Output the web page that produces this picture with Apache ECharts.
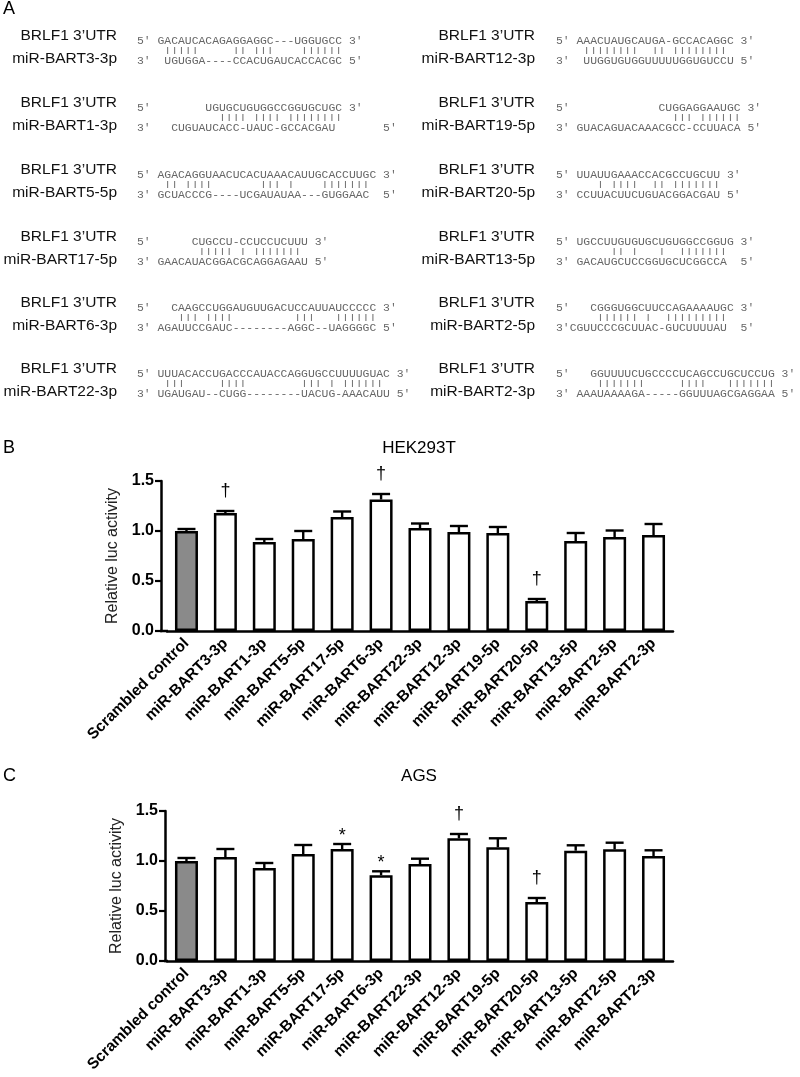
<!DOCTYPE html>
<html>
<head>
<meta charset="utf-8">
<script src="https://cdn.jsdelivr.net/npm/echarts@6/dist/echarts.min.js"></script>
<style>html,body{margin:0;padding:0;background:#fff}#c{width:800px;height:1077px}</style>
</head>
<body>
<div id="c"></div>
<script>
// ---------- data ----------
const categories = ['Scrambled control','miR-BART3-3p','miR-BART1-3p','miR-BART5-5p','miR-BART17-5p','miR-BART6-3p','miR-BART22-3p','miR-BART12-3p','miR-BART19-5p','miR-BART20-5p','miR-BART13-5p','miR-BART2-5p','miR-BART2-3p'];
const hekMean = [1.00,1.18,0.89,0.92,1.14,1.315,1.03,0.99,0.98,0.30,0.90,0.94,0.96];
const hekErr  = [0.02,0.02,0.03,0.08,0.055,0.055,0.045,0.06,0.06,0.02,0.08,0.065,0.11];
const hekSig  = ['','†','','','','†','','','','†','','',''];
const agsMean = [1.00,1.04,0.93,1.07,1.12,0.857,0.97,1.227,1.137,0.59,1.103,1.117,1.05];
const agsErr  = [0.03,0.08,0.05,0.09,0.05,0.04,0.053,0.043,0.09,0.04,0.054,0.066,0.057];
const agsSig  = ['','','','','*','*','','†','','†','','',''];
const yTicks = [0, 0.5, 1.0, 1.5];

const utrLabel = 'BRLF1 3’UTR';
const leftMirs = ['miR-BART3-3p','miR-BART1-3p','miR-BART5-5p','miR-BART17-5p','miR-BART6-3p','miR-BART22-3p'];
const leftTop = [
  '5′ GACAUCACAGAGGAGGC---UGGUGCC 3′',
  '5′        UGUGCUGUGGCCGGUGCUGC 3′',
  '5′ AGACAGGUAACUCACUAAACAUUGCACCUUGC 3′',
  '5′      CUGCCU-CCUCCUCUUU 3′',
  '5′   CAAGCCUGGAUGUUGACUCCAUUAUCCCCC 3′',
  '5′ UUUACACCUGACCCAUACCAGGUGCCUUUUGUAC 3′'];
const leftPipes = [
  '    |||||     || |||    ||||||',
  '            |||| |||| ||||||||',
  '    || ||||       ||| |    |||||||',
  '         ||||| | |||||||',
  '      ||| ||||         |||   ||||||',
  '    |||     ||||        ||| | ||||||'];
const leftBot = [
  '3′  UGUGGA----CCACUGAUCACCACGC 5′',
  '3′   CUGUAUCACC-UAUC-GCCACGAU       5′',
  '3′ GCUACCCG----UCGAUAUAA---GUGGAAC  5′',
  '3′ GAACAUACGGACGCAGGAGAAU 5′',
  '3′ AGAUUCCGAUC--------AGGC--UAGGGGC 5′',
  '3′ UGAUGAU--CUGG--------UACUG-AAACAUU 5′'];
const rightMirs = ['miR-BART12-3p','miR-BART19-5p','miR-BART20-5p','miR-BART13-5p','miR-BART2-5p','miR-BART2-3p'];
const rightTop = [
  '5′ AAACUAUGCAUGA-GCCACAGGC 3′',
  '5′             CUGGAGGAAUGC 3′',
  '5′ UUAUUGAAACCACGCCUGCUU 3′',
  '5′ UGCCUUGUGUGCUGUGGCCGGUG 3′',
  '5′   CGGGUGGCUUCCAGAAAAUGC 3′',
  '5′   GGUUUUCUGCCCCUCAGCCUGCUCCUG 3′'];
const rightPipes = [
  '    ||||||||  || ||||||||',
  '                 ||| ||||||',
  '      | ||||  || |||||||',
  '        || |   |  |||||||',
  '      |||||| |  |||||||||',
  '      |||||||     ||||   |||||||'];
const rightBot = [
  '3′  UUGGUGUGGUUUUUGGUGUCCU 5′',
  '3′ GUACAGUACAAACGCC-CCUUACA 5′',
  '3′ CCUUACUUCUGUACGGACGAU 5′',
  '3′ GACAUGCUCCGGUGCUCGGCCA  5′',
  '3′CGUUCCCGCUUAC-GUCUUUUAU  5′',
  '3′ AAAUAAAAGA-----GGUUUAGCGAGGAA 5′'];

// ---------- layout ----------
const SANS = '"Liberation Sans", Arial, sans-serif';
const MONO = '"Liberation Mono", "Courier New", monospace';
const rowY = [36, 103, 170, 237, 303, 369];
const gB = {left:167, right:127, top:481, height:150, yOff:6, nameGap:34};
const gC = {left:167, right:127, top:811, height:150, yOff:2, nameGap:38};

const graphics = [];
function txt(x, y, text, opt) {
  graphics.push(Object.assign({type:'text', x:x, y:y, silent:true,
    style: Object.assign({text:text, fill:'#111', fontFamily:SANS, fontSize:15.5,
      align:'left', verticalAlign:'middle'}, opt.style || {})}, opt.el || {}));
}
function block(labX, seqX, y0, mir, top, pipes, bot) {
  txt(labX, y0, utrLabel, {style:{align:'right'}});
  txt(labX, y0 + 23, mir, {style:{align:'right'}});
  const ms = {fontFamily:MONO, fontSize:11.4, fill:'#666'};
  txt(seqX, y0 + 5, top, {style:ms});
  txt(seqX, y0 + 14.5, pipes, {style:ms, el:{scaleY:0.62}});
  txt(seqX, y0 + 25, bot, {style:ms});
}
for (let i = 0; i < 6; i++) {
  block(117, 137, rowY[i], leftMirs[i], leftTop[i], leftPipes[i], leftBot[i]);
  block(535, 556, rowY[i], rightMirs[i], rightTop[i], rightPipes[i], rightBot[i]);
}
txt(3, 9, 'A', {style:{fontSize:18, fill:'#000'}});
txt(3, 448, 'B', {style:{fontSize:18, fill:'#000'}});
txt(3, 776, 'C', {style:{fontSize:18, fill:'#000'}});
txt(419, 448, 'HEK293T', {style:{fontSize:17, fill:'#000', align:'center'}});
txt(419, 776, 'AGS', {style:{fontSize:17, fill:'#000', align:'center'}});
[gB, gC].forEach(g => {
  graphics.push({type:'line', silent:true,
    shape:{x1:g.left - g.yOff - 1, y1:g.top + g.height, x2:g.left + 1, y2:g.top + g.height},
    style:{stroke:'#000', lineWidth:2.5}});
});

function xAxisFor(idx) {
  return {type:'category', gridIndex:idx, data:categories,
    axisLine:{lineStyle:{color:'#000', width:2.5}},
    axisTick:{alignWithLabel:true, length:7, lineStyle:{color:'#000', width:2.2}},
    axisLabel:{rotate:45, interval:0, fontWeight:'bold', fontSize:15.5, color:'#000', fontFamily:SANS, margin:10}};
}
function yAxisFor(idx, g) {
  return {type:'value', gridIndex:idx, min:yTicks[0], max:yTicks[yTicks.length-1], interval:0.5, offset:g.yOff,
    axisLine:{show:true, lineStyle:{color:'#000', width:2.5}},
    axisTick:{show:true, length:6, lineStyle:{color:'#000', width:2.2}},
    splitLine:{show:false},
    axisLabel:{formatter:v => v.toFixed(1), fontWeight:'bold', fontSize:16, color:'#000', fontFamily:SANS, margin:7},
    name:'Relative luc activity', nameLocation:'middle', nameGap:g.nameGap,
    nameTextStyle:{fontSize:16, color:'#222', fontFamily:SANS}};
}
function barSeries(idx, means) {
  return {type:'bar', xAxisIndex:idx, yAxisIndex:idx, data:means, barWidth:23,
    itemStyle:{color:p => p.dataIndex === 0 ? '#8a8a8a' : '#ffffff', borderColor:'#000', borderWidth:2.5},
    silent:true, animation:false};
}
function errSeries(idx, means, errs, sigs) {
  return {type:'custom', xAxisIndex:idx, yAxisIndex:idx, z:5, silent:true, animation:false,
    data: means.map((m, i) => [i, m, errs[i]]),
    renderItem: function(params, api) {
      const i = api.value(0), m = api.value(1), e = api.value(2);
      const p0 = api.coord([i, m]);
      const p1 = api.coord([i, m + e]);
      const half = 9;
      const st = {stroke:'#000', lineWidth:2.4};
      const children = [
        {type:'line', shape:{x1:p0[0], y1:p0[1], x2:p1[0], y2:p1[1]}, style:st},
        {type:'line', shape:{x1:p1[0]-half, y1:p1[1], x2:p1[0]+half, y2:p1[1]}, style:st}
      ];
      const s = sigs[i];
      if (s) {
        children.push({type:'text', x:p1[0], y:p1[1] - (s === '*' ? 8 : 20),
          style:{text:s, fill:'#000', fontSize:18, fontFamily:SANS, align:'center', verticalAlign:'middle'}});
      }
      return {type:'group', children:children};
    }};
}

const chart = echarts.init(document.getElementById('c'), null, {renderer:'canvas'});
chart.setOption({
  backgroundColor:'#ffffff',
  animation:false,
  grid:[{left:gB.left, right:gB.right, top:gB.top, height:gB.height},
        {left:gC.left, right:gC.right, top:gC.top, height:gC.height}],
  xAxis:[xAxisFor(0), xAxisFor(1)],
  yAxis:[yAxisFor(0, gB), yAxisFor(1, gC)],
  series:[barSeries(0, hekMean), errSeries(0, hekMean, hekErr, hekSig),
          barSeries(1, agsMean), errSeries(1, agsMean, agsErr, agsSig)],
  graphic:{elements:graphics}
});
</script>
</body>
</html>
